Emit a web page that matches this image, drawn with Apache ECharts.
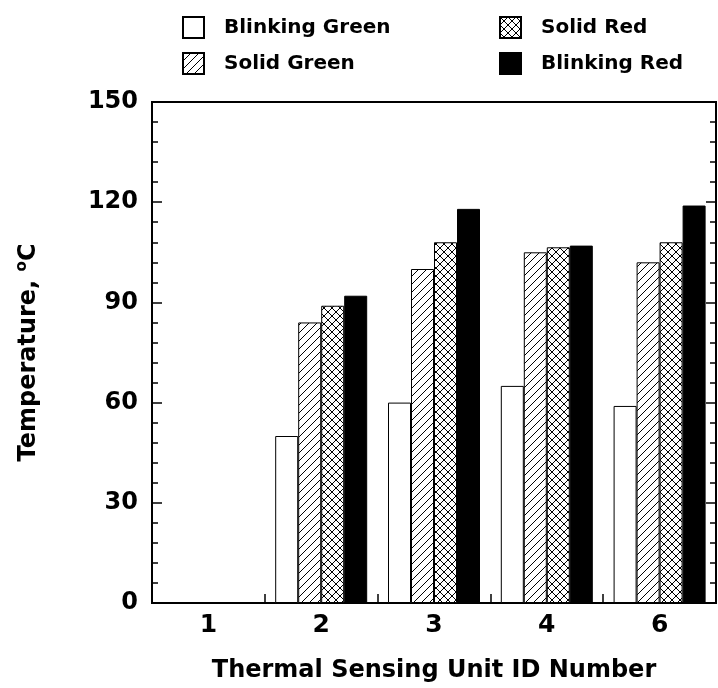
<!DOCTYPE html>
<html>
<head>
<meta charset="utf-8">
<script src="https://cdn.jsdelivr.net/npm/echarts@6/dist/echarts.min.js"></script>
<style>
  html, body { margin: 0; padding: 0; background: #fff; }
  #chart { width: 718px; height: 688px; }
</style>
</head>
<body>
<div id="chart"></div>
<script>
let units = ['1', '2', '3', '4', '6'];
let blinkingGreen = [null, 50, 60, 65, 59];
let solidGreen = [null, 84, 100, 105, 102];
let solidRed = [null, 89, 108, 106.5, 108];
let blinkingRed = [null, 92, 118, 107, 119];

let font = 'DejaVu Sans';

// little tiles for the hatched fills
function hatchTile(cross) {
    let c = document.createElement('canvas');
    c.width = 8; c.height = 8;
    let ctx = c.getContext('2d');
    ctx.fillStyle = '#fff';
    ctx.fillRect(0, 0, 8, 8);
    ctx.strokeStyle = '#000';
    ctx.lineWidth = 1;
    ctx.beginPath();
    // "/" lines
    ctx.moveTo(-2, 10); ctx.lineTo(10, -2);
    ctx.moveTo(-2, 2); ctx.lineTo(2, -2);
    ctx.moveTo(6, 10); ctx.lineTo(10, 6);
    if (cross) {
        // "\" lines
        ctx.moveTo(-2, -2); ctx.lineTo(10, 10);
        ctx.moveTo(-2, 6); ctx.lineTo(2, 10);
        ctx.moveTo(6, -2); ctx.lineTo(10, 2);
    }
    ctx.stroke();
    return { image: c, repeat: 'repeat' };
}

function barSeries(name, data, fill) {
    return {
        name: name,
        type: 'bar',
        data: data,
        barWidth: 23,
        barGap: '0%',
        itemStyle: { color: fill, borderColor: '#000', borderWidth: 1 }
    };
}

let legendBase = {
    orient: 'vertical',
    top: 16,
    padding: 0,
    itemWidth: 21,
    itemHeight: 21,
    itemGap: 13,
    icon: 'rect',
    textStyle: { fontFamily: font, fontWeight: 'bold', fontSize: 20, color: '#000', padding: [0, 0, 0, 15] }
};

let tickStyle = { show: true, inside: true, length: 10, lineStyle: { color: '#000', width: 1.5 } };
let minorStyle = { show: true, splitNumber: 5, length: 6, lineStyle: { color: '#000', width: 1.5 } };

let option = {
    animation: false,
    backgroundColor: '#fff',
    legend: [
        Object.assign({}, legendBase, { left: 182, data: ['Blinking Green', 'Solid Green'] }),
        Object.assign({}, legendBase, { left: 499, data: ['Solid Red', 'Blinking Red'] })
    ],
    grid: {
        left: 152, right: 2, top: 102, bottom: 85,
        show: true, borderColor: '#000', borderWidth: 2
    },
    xAxis: {
        type: 'category',
        data: units,
        axisLine: { lineStyle: { color: '#000', width: 2 } },
        axisTick: { show: true, inside: true, length: 9, lineStyle: { color: '#000', width: 1.5 } },
        axisLabel: { fontFamily: font, fontWeight: 'bold', fontSize: 25, color: '#000', margin: 10 },
        name: 'Thermal Sensing Unit ID Number',
        nameLocation: 'middle',
        nameGap: 56,
        nameTextStyle: { fontFamily: font, fontWeight: 'bold', fontSize: 24, color: '#000' }
    },
    yAxis: [
        {
            type: 'value',
            min: 0, max: 150, interval: 30,
            axisLine: { show: true, lineStyle: { color: '#000', width: 2 } },
            axisTick: tickStyle,
            minorTick: minorStyle,
            splitLine: { show: false },
            axisLabel: { fontFamily: font, fontWeight: 'bold', fontSize: 24, color: '#000', margin: 14 },
            name: 'Temperature, {sup|o}C',
            nameLocation: 'middle',
            nameGap: 110,
            nameRotate: 90,
            nameTextStyle: {
                fontFamily: font, fontWeight: 'bold', fontSize: 24, color: '#000',
                rich: {
                    sup: { fontFamily: font, fontWeight: 'bold', fontSize: 15, color: '#000', verticalAlign: 'bottom', padding: [0, 0, 12, 0] }
                }
            }
        },
        {
            type: 'value',
            position: 'right',
            min: 0, max: 150, interval: 30,
            axisLine: { show: true, lineStyle: { color: '#000', width: 2 } },
            axisTick: tickStyle,
            minorTick: minorStyle,
            splitLine: { show: false },
            axisLabel: { show: false }
        }
    ],
    series: [
        barSeries('Blinking Green', blinkingGreen, '#fff'),
        barSeries('Solid Green', solidGreen, hatchTile(false)),
        barSeries('Solid Red', solidRed, hatchTile(true)),
        barSeries('Blinking Red', blinkingRed, '#000')
    ]
};

let chart = echarts.init(document.getElementById('chart'));
chart.setOption(option);
</script>
</body>
</html>
